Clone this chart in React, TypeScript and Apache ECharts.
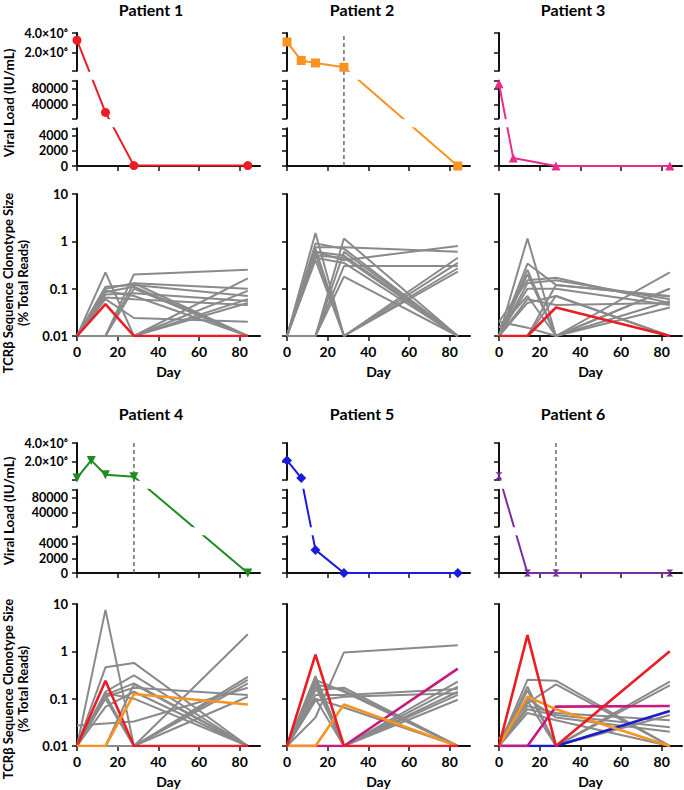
import React, { useEffect, useRef } from 'react';
import * as echarts from 'echarts';

// ---------- data ----------
const DAY_TICKS = [0, 20, 40, 60, 80];
const TCR_DAYS = [0, 14, 28, 84];

// viral load (IU/mL)
const P1_DAYS = [0, 14, 28, 84];
const P1_LOAD = [3250000, 20000, 50, 50];
const P2_DAYS = [0, 7, 14, 28, 84];
const P2_LOAD = [3070000, 1150000, 900000, 450000, 0];
const P3_DAYS = [0, 7, 28, 84];
const P3_LOAD = [92000, 1050, 0, 0];
const P4_DAYS = [0, 7, 14, 28, 84];
const P4_LOAD = [280000, 2150000, 630000, 420000, 0];
const P5_DAYS = [0, 7, 14, 28, 84];
const P5_LOAD = [2150000, 280000, 3150, 0, 0];
const P6_DAYS = [0, 14, 28, 84];
const P6_LOAD = [520000, 0, 0, 0];

// broken axis segments
const SEG_RANGES = [[0, 5000], [5000, 100000], [100000, 4000000]];
const SEG_TICKS = [[0, 2000, 4000, 5000], [5000, 40000, 80000, 100000], [100000, 2000000, 4000000]];
const SEG_LABELS = [[0, 2000, 4000], [40000, 80000], [2000000, 4000000]];

// TCRβ clonotype sizes (% total reads) at days 0, 14, 28, 84
const P1_GREY = [
  [0.01, 0.22, 0.01, 0.01],
  [0.01, 0.01, 0.2, 0.25],
  [0.01, 0.11, 0.12, 0.07],
  [0.01, 0.1, 0.13, 0.1],
  [0.01, 0.085, 0.11, 0.01],
  [0.01, 0.075, 0.08, 0.055],
  [0.01, 0.065, 0.06, 0.045],
  [0.01, 0.06, 0.024, 0.02],
  [0.01, 0.01, 0.1, 0.01],
  [0.01, 0.01, 0.13, 0.01],
  [0.01, 0.01, 0.01, 0.165],
  [0.01, 0.01, 0.01, 0.09],
  [0.01, 0.01, 0.01, 0.06],
  [0.01, 0.01, 0.01, 0.05],
  [0.01, 0.09, 0.07, 0.01],
];
const P1_RED = [0.01, 0.047, 0.01, 0.01];

const P2_GREY = [
  [0.01, 1.5, 0.01, 0.35],
  [0.01, 0.9, 0.7, 0.01],
  [0.01, 0.75, 0.75, 0.6],
  [0.01, 0.6, 0.5, 0.01],
  [0.01, 0.5, 0.45, 0.01],
  [0.01, 0.45, 0.35, 0.01],
  [0.01, 0.7, 0.01, 0.45],
  [0.01, 0.01, 1.15, 0.01],
  [0.01, 0.01, 0.6, 0.01],
  [0.01, 0.01, 0.3, 0.3],
  [0.01, 0.01, 0.18, 0.01],
  [0.01, 0.55, 0.01, 0.27],
  [0.01, 0.4, 0.01, 0.23],
  [0.01, 0.6, 0.4, 0.8],
];

const P3_GREY = [
  [0.01, 1.15, 0.01, 0.22],
  [0.01, 0.34, 0.12, 0.07],
  [0.01, 0.2, 0.01, 0.1],
  [0.02, 0.15, 0.17, 0.05],
  [0.01, 0.13, 0.15, 0.06],
  [0.01, 0.1, 0.1, 0.045],
  [0.015, 0.07, 0.01, 0.055],
  [0.01, 0.05, 0.07, 0.01],
  [0.02, 0.015, 0.01, 0.04],
  [0.01, 0.01, 0.12, 0.068],
  [0.01, 0.06, 0.045, 0.05],
  [0.01, 0.01, 0.07, 0.01],
  [0.01, 0.25, 0.01, 0.1],
];
const P3_RED = [0.01, 0.01, 0.04, 0.01];

const P4_GREY = [
  [0.01, 7.5, 0.01, 0.01],
  [0.01, 0.46, 0.57, 0.01],
  [0.01, 0.14, 0.31, 0.01],
  [0.01, 0.01, 0.01, 2.3],
  [0.01, 0.12, 0.21, 0.01],
  [0.01, 0.11, 0.17, 0.12],
  [0.027, 0.03, 0.033, 0.17],
  [0.01, 0.067, 0.14, 0.01],
  [0.01, 0.01, 0.2, 0.01],
  [0.01, 0.01, 0.01, 0.25],
  [0.01, 0.01, 0.01, 0.29],
  [0.01, 0.12, 0.01, 0.11],
  [0.01, 0.13, 0.1, 0.01],
  [0.01, 0.1, 0.01, 0.21],
];
const P4_RED = [0.01, 0.24, 0.01, 0.01];
const P4_ORANGE = [0.01, 0.01, 0.125, 0.075];

const P5_GREY = [
  [0.01, 0.04, 0.95, 1.35],
  [0.01, 0.3, 0.01, 0.23],
  [0.01, 0.25, 0.01, 0.18],
  [0.01, 0.2, 0.15, 0.01],
  [0.01, 0.15, 0.17, 0.01],
  [0.01, 0.12, 0.12, 0.16],
  [0.01, 0.1, 0.065, 0.01],
  [0.01, 0.22, 0.01, 0.14],
  [0.01, 0.18, 0.01, 0.12],
  [0.01, 0.1, 0.01, 0.095],
  [0.01, 0.09, 0.11, 0.13],
  [0.01, 0.25, 0.14, 0.01],
];
const P5_RED = [0.01, 0.85, 0.01, 0.01];
const P5_ORANGE = [0.01, 0.01, 0.075, 0.01];
const P5_MAGENTA = [0.01, 0.01, 0.01, 0.43];

const P6_GREY = [
  [0.01, 0.25, 0.24, 0.01],
  [0.01, 0.18, 0.01, 0.23],
  [0.01, 0.15, 0.01, 0.19],
  [0.014, 0.08, 0.2, 0.01],
  [0.01, 0.07, 0.05, 0.035],
  [0.01, 0.06, 0.045, 0.025],
  [0.014, 0.1, 0.04, 0.02],
  [0.01, 0.09, 0.01, 0.045],
  [0.01, 0.05, 0.035, 0.01],
];
const P6_RED = [0.01, 2.2, 0.01, 1.0];
const P6_ORANGE = [0.01, 0.11, 0.06, 0.01];
const P6_MAGENTA = [0.01, 0.01, 0.068, 0.07];
const P6_BLUE = [0.01, 0.01, 0.01, 0.055];

// ---------- style ----------
const RED = '#ec1c24';
const ORANGE = '#f7931e';
const PINK = '#ec2a8c';
const MAGENTA = '#c8197d';
const GREEN = '#1e8c1e';
const BLUE = '#1a1ae0';
const PURPLE = '#7a2ca0';
const BLUE_LINE = '#1a1ad0';
const GREY = '#8a8a8a';
const AX = '#111';
const FONT = 'Lato, "Open Sans", sans-serif';
const HOURGLASS = 'path://M0,0L10,0L0,10L10,10Z';

const W = 684;
const H = 790;
const COL_X = [77, 287, 499];
const PLOT_W = 183;
const GAP = 10;
const TITLE_X = [151, 362, 573];
const ROWS = [
  { titleY: 9, viralTop: 33, viralBottom: 166, tcrTop: 194, tcrBottom: 336, viralNameY: 103, tcrNameY: 283 },
  { titleY: 413, viralTop: 443, viralBottom: 573, tcrTop: 604, tcrBottom: 746, viralNameY: 511, tcrNameY: 689 },
];

const PATIENTS = [
  { name: 'Patient 1', days: P1_DAYS, load: P1_LOAD, color: RED, symbol: 'circle', size: 9, rotate: 0, dashed: false, grey: P1_GREY, hi: [{ d: P1_RED, c: RED }] },
  { name: 'Patient 2', days: P2_DAYS, load: P2_LOAD, color: ORANGE, symbol: 'rect', size: 9, rotate: 0, dashed: true, grey: P2_GREY, hi: [] },
  { name: 'Patient 3', days: P3_DAYS, load: P3_LOAD, color: PINK, symbol: 'triangle', size: 9, rotate: 0, dashed: false, grey: P3_GREY, hi: [{ d: P3_RED, c: RED }] },
  { name: 'Patient 4', days: P4_DAYS, load: P4_LOAD, color: GREEN, symbol: 'triangle', size: 9, rotate: 180, dashed: true, grey: P4_GREY, hi: [{ d: P4_RED, c: RED }, { d: P4_ORANGE, c: ORANGE }] },
  { name: 'Patient 5', days: P5_DAYS, load: P5_LOAD, color: BLUE, symbol: 'diamond', size: 10, rotate: 0, dashed: false, grey: P5_GREY, hi: [{ d: P5_MAGENTA, c: MAGENTA }, { d: P5_ORANGE, c: ORANGE }, { d: P5_RED, c: RED }] },
  { name: 'Patient 6', days: P6_DAYS, load: P6_LOAD, color: PURPLE, symbol: HOURGLASS, size: 7, rotate: 0, dashed: true, grey: P6_GREY, hi: [{ d: P6_BLUE, c: BLUE_LINE }, { d: P6_MAGENTA, c: MAGENTA }, { d: P6_ORANGE, c: ORANGE }, { d: P6_RED, c: RED }] },
];

// position along the broken axis, in px from the bottom
function brokenPos(v: number, h: number) {
  if (v <= 5000) return (v / 5000) * h;
  if (v <= 100000) return h + GAP + ((v - 5000) / 95000) * h;
  return 2 * h + 2 * GAP + ((v - 100000) / 3900000) * h;
}
// value expressed in the linear scale of segment k (so lines stay straight across segments)
function segValue(k: number, v: number, h: number) {
  const [a, b] = SEG_RANGES[k];
  const base = k * (h + GAP);
  return a + ((brokenPos(v, h) - base) / h) * (b - a);
}
function fmtLoad(v: number) {
  if (v >= 1000000) return (v / 1000000).toFixed(1) + '×10⁶';
  return String(Math.round(v));
}
function fmtLog(v: number) {
  const e = Math.round(Math.log10(v));
  if (e >= 0) return String(Math.pow(10, e));
  return '0.' + '0'.repeat(-e - 1) + '1';
}

function textStyle(text: string, size: number) {
  return {
    text, fontSize: size, fontWeight: 'bold', fontFamily: FONT, fill: '#000',
    align: 'center', verticalAlign: 'middle', textAlign: 'center', textVerticalAlign: 'middle',
  };
}

function buildOption() {
  const grid: any[] = [];
  const xAxis: any[] = [];
  const yAxis: any[] = [];
  const series: any[] = [];
  const graphic: any[] = [];
  const addGrid = (rect: any, xa: any, ya: any) => {
    const i = grid.length;
    grid.push({ ...rect, containLabel: false });
    xAxis.push({ ...xa, gridIndex: i });
    yAxis.push({ ...ya, gridIndex: i });
    return i;
  };
  const axisLine = { show: true, onZero: false, lineStyle: { color: AX, width: 2 } };
  const tickStyle = { color: AX, width: 1.5 };
  const labelStyle = { color: '#000', fontWeight: 'bold', fontFamily: FONT };

  PATIENTS.forEach((p, i) => {
    const row = ROWS[Math.floor(i / 3)];
    const col = i % 3;
    const left = COL_X[col];
    const h = (row.viralBottom - row.viralTop - 2 * GAP) / 3;

    graphic.push({ type: 'text', x: TITLE_X[col], y: row.titleY, style: textStyle(p.name, 16) });

    // viral load, three stacked segments
    for (let k = 0; k < 3; k++) {
      const top = row.viralBottom - (k + 1) * h - k * GAP;
      const gi = addGrid(
        { left, top, width: PLOT_W, height: h },
        {
          type: 'value', min: 0, max: 90, show: k === 0,
          axisLine, axisTick: { show: true, customValues: DAY_TICKS, length: 5, lineStyle: tickStyle },
          axisLabel: { show: false }, splitLine: { show: false },
        },
        {
          type: 'value', min: SEG_RANGES[k][0], max: SEG_RANGES[k][1],
          axisLine, axisTick: { show: true, customValues: SEG_TICKS[k], length: 5, lineStyle: tickStyle },
          axisLabel: { show: col === 0, customValues: SEG_LABELS[k], formatter: fmtLoad, margin: 9, fontSize: 12.5, ...labelStyle },
          splitLine: { show: false },
        }
      );
      series.push({
        type: 'line', xAxisIndex: gi, yAxisIndex: gi, clip: true, z: 3,
        data: p.days.map((d, j) => [d, segValue(k, p.load[j], h)]),
        symbol: p.symbol, symbolSize: p.size, symbolRotate: p.rotate, symbolKeepAspect: true,
        itemStyle: { color: p.color, borderWidth: 0 },
        lineStyle: { color: p.color, width: 2 },
        emphasis: { disabled: true }, silent: true,
      });
    }
    if (p.dashed) {
      const gi = addGrid(
        { left, top: row.viralTop, width: PLOT_W, height: row.viralBottom - row.viralTop },
        { type: 'value', min: 0, max: 90, show: false },
        { type: 'value', min: 0, max: 1, show: false }
      );
      series.push({
        type: 'line', xAxisIndex: gi, yAxisIndex: gi, z: 2, symbol: 'none', silent: true,
        data: [[28, 0], [28, 1]],
        lineStyle: { color: '#555', width: 1.3, type: [4, 3] },
      });
    }

    // TCR clonotype sizes
    const ti = addGrid(
      { left, top: row.tcrTop, width: PLOT_W, height: row.tcrBottom - row.tcrTop },
      {
        type: 'value', min: 0, max: 90,
        axisLine, axisTick: { show: true, customValues: DAY_TICKS, length: 5, lineStyle: tickStyle },
        axisLabel: { customValues: DAY_TICKS, fontSize: 14, margin: 8, ...labelStyle },
        splitLine: { show: false },
        name: 'Day', nameLocation: 'middle', nameGap: 28,
        nameTextStyle: { fontSize: 14, ...labelStyle },
      },
      {
        type: 'log', logBase: 10, min: 0.01, max: 10,
        axisLine, axisTick: { show: true, length: 5, lineStyle: tickStyle },
        minorTick: { show: false },
        axisLabel: { show: col === 0, formatter: fmtLog, margin: 9, fontSize: 13, ...labelStyle },
        splitLine: { show: false },
      }
    );
    p.grey.forEach((vals) => {
      series.push({
        type: 'line', xAxisIndex: ti, yAxisIndex: ti, z: 2, symbol: 'none', silent: true, clip: true,
        data: TCR_DAYS.map((d, j) => [d, vals[j]]),
        lineStyle: { color: GREY, width: 2 },
      });
    });
    p.hi.forEach((hl) => {
      series.push({
        type: 'line', xAxisIndex: ti, yAxisIndex: ti, z: 3, symbol: 'none', silent: true, clip: true,
        data: TCR_DAYS.map((d, j) => [d, hl.d[j]]),
        lineStyle: { color: hl.c, width: 2.6 },
      });
    });
  });

  // y-axis names (left column only)
  ROWS.forEach((row) => {
    graphic.push({ type: 'text', x: 9, y: row.viralNameY, rotation: Math.PI / 2, style: textStyle('Viral Load (IU/mL)', 13.5) });
    graphic.push({ type: 'text', x: 8, y: row.tcrNameY, rotation: Math.PI / 2, style: textStyle('TCRβ Sequence Clonotype Size', 13) });
    graphic.push({ type: 'text', x: 23, y: row.tcrNameY, rotation: Math.PI / 2, style: textStyle('(% Total Reads)', 13) });
  });

  return { animation: false, backgroundColor: '#fff', grid, xAxis, yAxis, series, graphic };
}

export default function App() {
  const ref = useRef<HTMLDivElement>(null);
  useEffect(() => {
    const chart = echarts.init(ref.current!, null, { renderer: 'svg' });
    chart.setOption(buildOption() as any);
    return () => chart.dispose();
  }, []);
  return <div ref={ref} style={{ position: 'fixed', left: 0, top: 0, width: W, height: H, background: '#fff' }} />;
}
